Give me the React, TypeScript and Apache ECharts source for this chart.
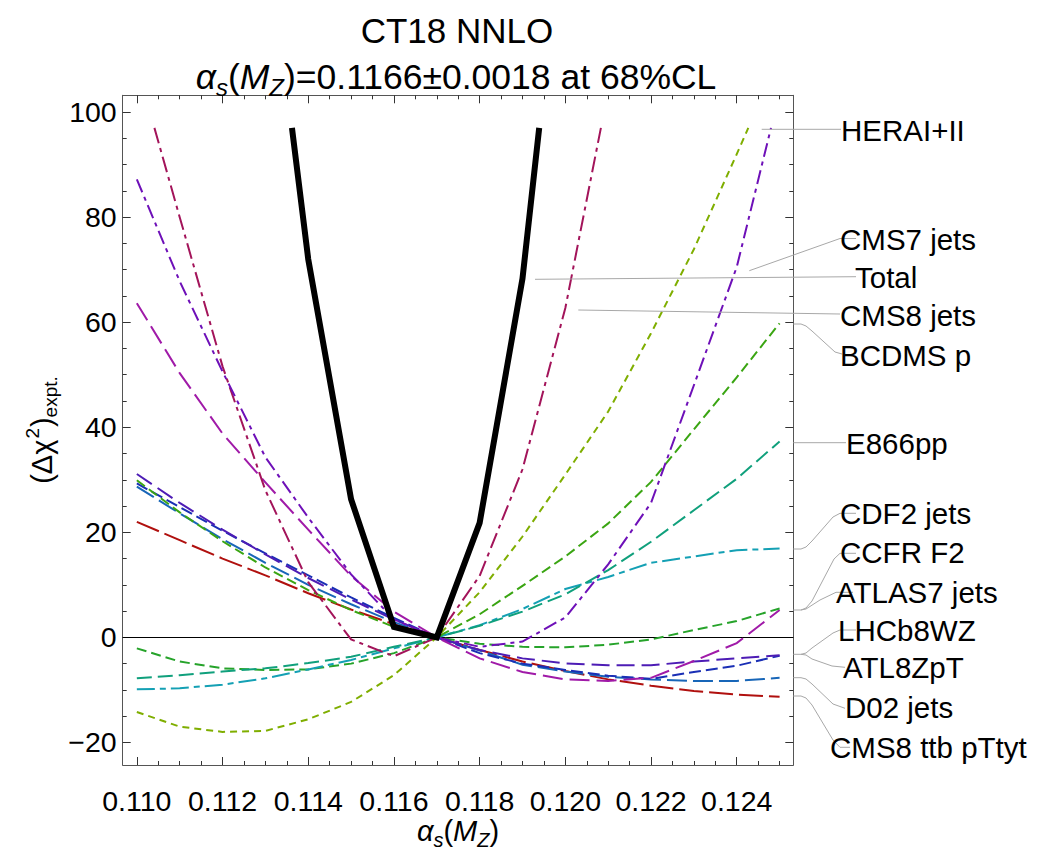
import React, { useEffect, useRef } from "react";
import * as echarts from "echarts";

// ---------- data ----------
const alphaS = [0.110, 0.111, 0.112, 0.113, 0.114, 0.115, 0.116, 0.117, 0.118, 0.119, 0.120, 0.121, 0.122, 0.123, 0.124, 0.125];
const CLIP = 97; // curves leave the plotted range here

const totalVals = [null, null, null, null, 72.0, 26.3, 2.0, 0, 21.8, 68.3, null, null, null, null, null, null];
const totalEnds = [0.11362, 0.11939];

const heraVals = [-14.2, -17.0, -18.0, -17.8, -15.6, -12.3, -7.2, 0, 8.6, 19.2, 31.0, 43.0, 57.9, 73.9, 92.0, null];
const heraEnds = [null, 0.12427];

const cms7Vals = [87.2, 67.8, 50.6, 34.3, 22.8, 12.0, 3.4, 0, -1.8, -0.8, 3.8, 13.9, 25.6, 48.0, 70.5, null];
const cms7Ends = [null, 0.12480];

const cms8Vals = [null, 80.0, 51.6, 28.0, 10.5, -0.4, -3.6, 0, 11.7, 32.0, 62.7, null, null, null, null, null];
const cms8Ends = [0.11041, 0.12083];

const bcdmsVals = [29.9, 23.8, 18.3, 13.3, 9.0, 5.2, 2.0, 0, 4.4, 9.8, 15.4, 21.7, 29.6, 39.6, 49.5, 59.8];
const e866Vals = [-7.8, -7.2, -6.5, -5.9, -4.9, -3.7, -1.8, 0, 2.2, 4.9, 8.2, 12.8, 18.2, 24.2, 30.2, 37.3];
const cdf2Vals = [-9.9, -9.7, -9.0, -7.8, -6.1, -4.3, -2.1, 0, 2.3, 5.4, 9.2, 11.5, 14.2, 15.4, 16.6, 16.9];
const ccfrVals = [-2.1, -4.6, -5.9, -6.2, -6.1, -5.0, -3.0, 0, -1.2, -1.8, -1.9, -1.4, -0.4, 1.4, 3.1, 5.5];
const atlas7Vals = [63.6, 50.3, 38.8, 29.5, 20.5, 11.7, 4.9, 0, -4.0, -6.6, -8.0, -8.3, -7.7, -4.5, -1.1, 5.2];
const lhcbVals = [31.1, 25.6, 20.5, 15.8, 11.3, 7.2, 3.4, 0, -2.4, -4.0, -4.95, -5.3, -5.3, -4.6, -4.0, -3.4];
const atl8Vals = [29.3, 24.8, 20.3, 16.0, 11.8, 7.6, 3.7, 0, -3.0, -5.0, -6.2, -7.3, -7.9, -6.6, -5.4, -3.5];
const d02Vals = [28.7, 23.6, 18.7, 14.2, 10.0, 6.3, 2.9, 0, -2.5, -5.2, -6.5, -7.5, -8.0, -8.3, -8.3, -7.7];
const cms8ttbVals = [22.0, 18.5, 15.0, 11.8, 8.4, 5.3, 2.5, 0, -2.4, -4.6, -6.4, -8.0, -9.2, -10.2, -10.9, -11.3];

const xMajorTicks = [0.110, 0.112, 0.114, 0.116, 0.118, 0.120, 0.122, 0.124];
const yMajorTicks = [-20, 0, 20, 40, 60, 80, 100];

const titleText = "CT18 NNLO";
const subtitleValue = "=0.1166\u00b10.0018 at 68%CL";

const labelNames = [
  "HERAI+II", "CMS7 jets", "Total", "CMS8 jets", "BCDMS p", "E866pp", "CDF2 jets",
  "CCFR F2", "ATLAS7 jets", "LHCb8WZ", "ATL8ZpT", "D02 jets", "CMS8 ttb pTtyt",
];

// ---------- layout & style ----------
const W = 1047;
const H = 850;
const X_MIN = 0.10967;
const X_MAX = 0.12532;
const Y_MIN = -24.3;
const Y_MAX = 103.2;
const FONT = '"Liberation Sans", Arial, Helvetica, sans-serif';

const xMinorTicks: number[] = [];
for (let k = 0; k <= 30; k++) {
  const v = Math.round((0.110 + k * 0.0005) * 1e5) / 1e5;
  if (k % 4 !== 0) xMinorTicks.push(v);
}
const yMinorTicks: number[] = [];
for (let v = -20; v <= 100; v += 5) if (v % 20 !== 0) yMinorTicks.push(v);

type Curve = {
  name: string;
  vals: (number | null)[];
  ends?: (number | null)[];
  color: string;
  dash: number[] | "solid";
  width: number;
  z: number;
};

const curves: Curve[] = [
  { name: "CMS8 ttb pTtyt", vals: cms8ttbVals, color: "#b0100e", dash: [24, 6], width: 2, z: 2 },
  { name: "D02 jets", vals: d02Vals, color: "#1866b8", dash: [20, 6], width: 2, z: 2 },
  { name: "ATL8ZpT", vals: atl8Vals, color: "#1a2fb5", dash: [12, 5], width: 2, z: 2 },
  { name: "LHCb8WZ", vals: lhcbVals, color: "#4d1cb5", dash: [18, 7], width: 2, z: 2 },
  { name: "ATLAS7 jets", vals: atlas7Vals, color: "#a01aa8", dash: [20, 7], width: 2, z: 2 },
  { name: "CCFR F2", vals: ccfrVals, color: "#26a32a", dash: [10, 5], width: 2, z: 2 },
  { name: "CDF2 jets", vals: cdf2Vals, color: "#14a0b4", dash: [18, 5, 6, 5], width: 2, z: 2 },
  { name: "E866pp", vals: e866Vals, color: "#10a07c", dash: [15, 6], width: 2, z: 2 },
  { name: "BCDMS p", vals: bcdmsVals, color: "#3aa512", dash: [10, 5], width: 2, z: 2 },
  { name: "CMS8 jets", vals: cms8Vals, ends: cms8Ends, color: "#a3145a", dash: [16, 5, 4, 5], width: 2, z: 2 },
  { name: "CMS7 jets", vals: cms7Vals, ends: cms7Ends, color: "#6e10b8", dash: [14, 5, 4, 5], width: 2, z: 2 },
  { name: "HERAI+II", vals: heraVals, ends: heraEnds, color: "#7fae00", dash: [7, 5], width: 2, z: 2 },
  { name: "Total", vals: totalVals, ends: totalEnds, color: "#000000", dash: "solid", width: 6, z: 3 },
];

function toPoints(vals: (number | null)[], ends?: (number | null)[]) {
  const pts: number[][] = [];
  if (ends && ends[0] != null) pts.push([ends[0] as number, CLIP]);
  alphaS.forEach((x, i) => {
    const v = vals[i];
    if (v != null) pts.push([x, v]);
  });
  if (ends && ends[1] != null) pts.push([ends[1] as number, CLIP]);
  return pts;
}

// label positions: [left x, centre y]
const labelPos: number[][] = [
  [841, 130], [840, 239.5], [855, 277], [840, 315.5], [840, 355.5], [846, 443.5], [840, 513.5],
  [840, 552], [836, 592], [838, 630.5], [843, 667.5], [845, 707.5], [830, 747.5],
];

const pointerLines: number[][][] = [
  [[761.7, 129.3], [841, 129.3]],
  [[749.3, 270.7], [840, 238.5], [856, 238.5]],
  [[535, 279.3], [856, 276.7]],
  [[578.3, 310], [840, 314]],
  [[793.3, 324], [801, 324], [806, 326], [812, 331], [835, 352], [842, 354]],
  [[793.3, 442.7], [846, 442.7]],
  [[793.3, 549], [801, 549], [806, 547], [812, 541], [833, 517], [840, 513.3], [856, 513.3]],
  [[801, 610], [806, 608], [812, 601], [834, 559], [840, 553.3], [856, 553.3]],
  [[793.3, 610], [801, 610], [806, 609], [820, 600], [836, 592.3], [853, 592.3]],
  [[793.3, 654.3], [801, 654.3], [806, 653], [812, 648], [833, 633], [840, 630], [856, 630]],
  [[801, 654.3], [806, 655], [812, 659], [832, 666], [845, 667.3]],
  [[793.3, 677.7], [801, 677.7], [806, 679], [812, 684], [833, 704], [845, 708.3]],
  [[793.3, 696], [801, 696], [806, 698], [812, 705], [833, 740], [840, 747.3], [850, 747.3]],
];

const FRAME = "#555555";
const TICK = "#333333";
const TICK_FONT = 28.5;
const LABEL_FONT = 29.5;

function xAxis(position: "bottom" | "top", ticks: number[], len: number, frame: boolean, labels: boolean) {
  return {
    type: "value",
    position,
    min: X_MIN,
    max: X_MAX,
    axisLine: { show: frame, onZero: false, lineStyle: { color: FRAME, width: 1 } },
    axisTick: { show: true, inside: true, length: len, customValues: ticks, lineStyle: { color: TICK, width: 1 } },
    axisLabel: labels
      ? {
          show: true,
          customValues: xMajorTicks,
          formatter: (v: number) => v.toFixed(3),
          fontFamily: FONT,
          fontSize: TICK_FONT,
          color: "#000",
          margin: 21,
        }
      : { show: false },
    splitLine: { show: false },
  };
}

function yAxis(position: "left" | "right", ticks: number[], len: number, frame: boolean, labels: boolean) {
  return {
    type: "value",
    position,
    min: Y_MIN,
    max: Y_MAX,
    axisLine: { show: frame, onZero: false, lineStyle: { color: FRAME, width: 1 } },
    axisTick: { show: true, inside: true, length: len, customValues: ticks, lineStyle: { color: TICK, width: 1 } },
    axisLabel: labels
      ? {
          show: true,
          customValues: yMajorTicks,
          formatter: (v: number) => (v < 0 ? "\u2212" + Math.abs(v) : String(v)),
          fontFamily: FONT,
          fontSize: TICK_FONT,
          color: "#000",
          margin: 6,
        }
      : { show: false },
    splitLine: { show: false },
  };
}

export default function App() {
  const ref = useRef<HTMLDivElement>(null);

  useEffect(() => {
    document.body.style.margin = "0";
    if (!ref.current) return;
    const chart = echarts.init(ref.current, null, { renderer: "svg" });

    const series: any[] = curves.map((c, idx) => ({
      type: "line",
      name: c.name,
      data: toPoints(c.vals, c.ends),
      symbol: "none",
      showSymbol: false,
      silent: true,
      clip: true,
      z: c.z,
      lineStyle: { color: c.color, width: c.width, type: c.dash, cap: "butt", join: "miter" },
      itemStyle: { color: c.color },
      ...(idx === 0
        ? {
            markLine: {
              silent: true,
              symbol: ["none", "none"],
              label: { show: false },
              lineStyle: { color: "#000", width: 1, type: "solid" },
              data: [{ yAxis: 0 }],
              z: 1,
            },
          }
        : {}),
    }));

    const main = { fontSize: 35.5, fontFamily: FONT, fill: "#000", lineHeight: 37, verticalAlign: "top" };
    const mainIt = { ...main, fontStyle: "italic" };
    const subIt = { fontSize: 24, fontFamily: FONT, fill: "#000", fontStyle: "italic", lineHeight: 24, verticalAlign: "top", padding: [17, 0, 0, 0] };

    const axMain = { fontSize: 29, fontFamily: FONT, fill: "#000", lineHeight: 30, verticalAlign: "top" };
    const axIt = { ...axMain, fontStyle: "italic" };
    const axSub = { fontSize: 20, fontFamily: FONT, fill: "#000", fontStyle: "italic", lineHeight: 20, verticalAlign: "top", padding: [14, 0, 0, 0] };

    const yMain = { fontSize: 29, fontFamily: FONT, fill: "#000", lineHeight: 30, verticalAlign: "top", padding: [6, 0, 0, 0] };
    const ySup = { fontSize: 19, fontFamily: FONT, fill: "#000", lineHeight: 19, verticalAlign: "top", padding: [2, 1, 0, 1] };
    const ySub = { fontSize: 19, fontFamily: FONT, fill: "#000", lineHeight: 19, verticalAlign: "top", padding: [20, 0, 0, 0] };

    const graphics: any[] = [
      {
        type: "text",
        x: 457,
        y: 30,
        z: 100,
        style: { text: titleText, fontSize: 35, fontFamily: FONT, fill: "#000", align: "center", verticalAlign: "middle" },
      },
      {
        type: "text",
        x: 456,
        y: 77,
        z: 100,
        style: {
          text: "{i|\u03b1}{s|s}{n|(}{i|M}{s|Z}{n|)" + subtitleValue + "}",
          align: "center",
          verticalAlign: "middle",
          rich: { n: main, i: mainIt, s: subIt },
        },
      },
      {
        type: "text",
        x: 458,
        y: 831,
        z: 100,
        style: {
          text: "{i|\u03b1}{s|s}{n|(}{i|M}{s|Z}{n|)}",
          align: "center",
          verticalAlign: "middle",
          rich: { n: axMain, i: axIt, s: axSub },
        },
      },
      {
        type: "text",
        x: 36,
        y: 430,
        z: 100,
        rotation: Math.PI / 2,
        style: {
          text: "{n|(\u0394\u03c7}{p|2}{n|)}{b|expt.}",
          align: "center",
          verticalAlign: "middle",
          rich: { n: yMain, p: ySup, b: ySub },
        },
      },
    ];

    pointerLines.forEach((pts) => {
      graphics.push({
        type: "polyline",
        z: 90,
        silent: true,
        shape: { points: pts },
        style: { stroke: "#a8a8a8", lineWidth: 1, fill: null },
      });
    });

    labelNames.forEach((name, i) => {
      graphics.push({
        type: "text",
        x: labelPos[i][0],
        y: labelPos[i][1],
        z: 100,
        style: { text: name, fontSize: LABEL_FONT, fontFamily: FONT, fill: "#000", align: "left", verticalAlign: "middle" },
      });
    });

    chart.setOption({
      animation: false,
      backgroundColor: "#ffffff",
      grid: { left: 122.7, right: W - 793.3, top: 95.3, bottom: H - 765, containLabel: false },
      xAxis: [
        xAxis("bottom", xMajorTicks, 8, true, true),
        xAxis("bottom", xMinorTicks, 4, false, false),
        xAxis("top", xMajorTicks, 8, true, false),
        xAxis("top", xMinorTicks, 4, false, false),
      ],
      yAxis: [
        yAxis("left", yMajorTicks, 8, true, true),
        yAxis("left", yMinorTicks, 4, false, false),
        yAxis("right", yMajorTicks, 8, true, false),
        yAxis("right", yMinorTicks, 4, false, false),
      ],
      series,
      graphic: { elements: graphics },
    });

    return () => {
      chart.dispose();
    };
  }, []);

  return <div ref={ref} style={{ width: W, height: H, background: "#fff" }} />;
}
